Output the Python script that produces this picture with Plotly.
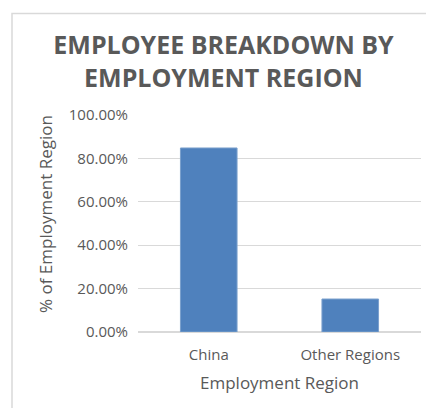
import plotly.graph_objects as go

# Share of employees by employment region
regions = ["China", "Other Regions"]
share = [0.848, 0.152]
y_ticks = [0.0, 0.2, 0.4, 0.6, 0.8, 1.0]
y_tick_labels = ["0.00%", "20.00%", "40.00%", "60.00%", "80.00%", "100.00%"]

W, H = 426, 408
L, R, T, B = 138, 5, 115, 76
pw, ph = W - L - R, H - T - B

font_family = "Open Sans, Noto Sans, sans-serif"
text_grey = "#595959"

fig = go.Figure(
    go.Bar(
        x=regions,
        y=share,
        width=0.4,
        marker=dict(color="#4F81BD", line=dict(color="#7BA0CD", width=1)),
    )
)


def px_x(p):
    return (p - L) / pw


def px_y(p):
    return (H - B - p) / ph


fig.update_layout(
    width=W,
    height=H,
    margin=dict(l=L, r=R, t=T, b=B),
    paper_bgcolor="white",
    plot_bgcolor="white",
    showlegend=False,
    font=dict(family=font_family, color=text_grey),
    title=dict(
        text="<b>EMPLOYEE BREAKDOWN BY<br>EMPLOYMENT REGION</b>",
        x=223.5 / W,
        xanchor="center",
        y=1 - 54 / H,
        yanchor="middle",
        font=dict(size=25, color=text_grey, family=font_family),
    ),
    xaxis=dict(
        showgrid=False,
        showline=False,
        ticks="",
        ticklabelstandoff=12,
        tickfont=dict(size=15, color=text_grey),
    ),
    yaxis=dict(
        range=[0, 1.0],
        tickvals=y_ticks,
        ticktext=y_tick_labels,
        showgrid=True,
        gridcolor="#D9D9D9",
        gridwidth=1,
        zeroline=True,
        zerolinecolor="#D9D9D9",
        showline=False,
        ticks="",
        ticklabelstandoff=9,
        tickfont=dict(size=15, color=text_grey),
    ),
    annotations=[
        dict(
            text="Employment Region",
            xref="paper",
            yref="paper",
            x=px_x(279),
            y=px_y(382),
            xanchor="center",
            yanchor="middle",
            showarrow=False,
            font=dict(size=17, color=text_grey),
        ),
        dict(
            text="% of Employment Region",
            xref="paper",
            yref="paper",
            x=px_x(45),
            y=px_y(214),
            xanchor="center",
            yanchor="middle",
            textangle=-90,
            showarrow=False,
            font=dict(size=17, color=text_grey),
        ),
    ],
    shapes=[
        dict(
            type="rect",
            xref="paper",
            yref="paper",
            x0=px_x(12),
            x1=px_x(440),
            y0=px_y(420),
            y1=px_y(13.5),
            line=dict(color="#D9D9D9", width=1.5),
            fillcolor="rgba(0,0,0,0)",
            layer="below",
        )
    ],
)

fig.write_html("out.html")
